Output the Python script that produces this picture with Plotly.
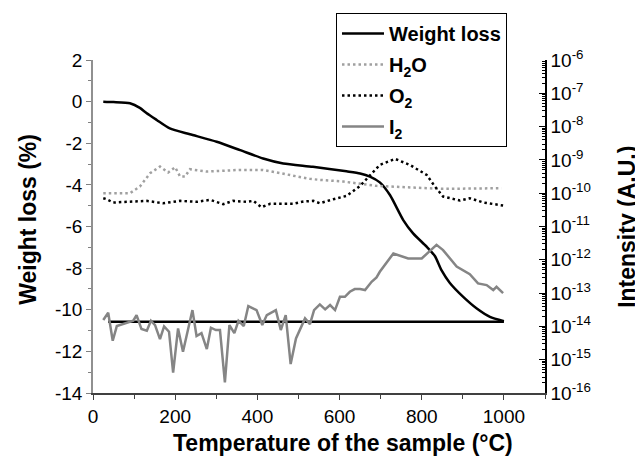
import plotly.graph_objects as go

# ---- data ----
wl_x = [25, 50, 90, 114, 130, 155, 187, 236, 301, 358, 414, 463, 535, 617, 650, 674, 698,
        723, 755, 779, 812, 832, 848, 868, 901, 934, 966, 1000]
wl_y = [0, -0.02, -0.08, -0.3, -0.55, -0.88, -1.29, -1.57, -1.93, -2.33, -2.73, -2.97,
        -3.13, -3.35, -3.45, -3.6, -3.88, -4.5, -5.69, -6.33, -6.97, -7.42, -8.1, -8.7,
        -9.38, -9.94, -10.34, -10.55]
base_x = [37, 1000]
base_y = [-10.58, -10.58]

h2o_x = [25, 90, 114, 139, 163, 183, 200, 212, 224, 236, 277, 358, 414, 479, 528, 552,
         609, 690, 771, 852, 994]
h2o_log = [-10.0, -10.0, -9.8, -9.4, -9.2, -9.38, -9.22, -9.5, -9.5, -9.28, -9.35, -9.3,
           -9.3, -9.45, -9.57, -9.6, -9.65, -9.78, -9.83, -9.87, -9.85]

o2_x = [25, 33, 49, 90, 131, 170, 212, 252, 285, 317, 341, 374, 390, 410, 431, 487, 512,
        536, 552, 585, 617, 650, 674, 698, 735, 771, 812, 832, 852, 893, 917, 950, 998]
o2_log = [-10.15, -10.18, -10.28, -10.26, -10.23, -10.3, -10.23, -10.26, -10.2, -10.33,
          -10.23, -10.26, -10.23, -10.42, -10.32, -10.32, -10.25, -10.23, -10.3, -10.18,
          -10.08, -9.78, -9.45, -9.15, -8.97, -9.15, -9.45, -9.8, -10.1, -10.22, -10.15,
          -10.28, -10.37]

i2_x = [25, 37, 48, 58, 98, 106, 118, 131, 141, 151, 163, 173, 185, 195, 207, 219, 242,
        252, 264, 277, 287, 299, 309, 321, 332, 344, 354, 367, 378, 398, 412, 423, 445,
        457, 469, 481, 494, 516, 528, 538, 552, 565, 577, 589, 601, 613, 625, 637, 650,
        662, 678, 690, 698, 731, 767, 800, 836, 852, 885, 917, 937, 958, 974, 982, 998]
i2_log = [-13.81, -13.59, -14.43, -13.99, -13.83, -13.66, -14.08, -14.13, -13.83, -13.96,
          -14.38, -14.0, -14.16, -15.39, -14.06, -14.76, -13.51, -14.29, -14.2, -14.68,
          -14.04, -14.11, -14.11, -15.68, -13.96, -14.2, -13.83, -13.99, -13.39, -13.51,
          -13.96, -13.66, -13.51, -14.11, -13.66, -15.13, -14.36, -13.76, -13.93, -13.51,
          -13.34, -13.49, -13.36, -13.51, -13.11, -13.11, -12.96, -12.88, -12.88, -12.91,
          -12.66, -12.53, -12.36, -11.81, -11.96, -11.96, -11.55, -11.71, -12.2, -12.43,
          -12.71, -12.76, -12.91, -12.81, -13.0]

x_tickvals = [0, 200, 400, 600, 800, 1000]
left_tickvals = [2, 0, -2, -4, -6, -8, -10, -12, -14]
right_exponents = [-6, -7, -8, -9, -10, -11, -12, -13, -14, -15, -16]

x_title = "Temperature of the sample (°C)"
left_title = "Weight loss (%)"
right_title = "Intensity (A.U.)"

# ---- figure ----
h2o_y = [10 ** v for v in h2o_log]
o2_y = [10 ** v for v in o2_log]
i2_y = [10 ** v for v in i2_log]

FONT = "Liberation Sans, Arial, sans-serif"
LW = 2.5
TICKSIZE = 19
TITLESIZE = 23

fig = go.Figure()
fig.add_trace(go.Scatter(x=wl_x, y=wl_y, mode="lines", name="<b>Weight loss</b>",
                         line=dict(color="black", width=LW, shape="spline", smoothing=0.6),
                         legendgroup="a", yaxis="y"))
fig.add_trace(go.Scatter(x=base_x, y=base_y, mode="lines", showlegend=False,
                         line=dict(color="black", width=LW), yaxis="y"))
fig.add_trace(go.Scatter(x=h2o_x, y=h2o_y, mode="lines", name="<b>H<sub>2</sub>O</b>",
                         line=dict(color="#a0a0a0", width=LW, dash="2.5px,3px"),
                         legendgroup="b", yaxis="y2"))
fig.add_trace(go.Scatter(x=o2_x, y=o2_y, mode="lines", name="<b>O<sub>2</sub></b>",
                         line=dict(color="black", width=LW, dash="2.5px,3px"),
                         legendgroup="c", yaxis="y2"))
fig.add_trace(go.Scatter(x=i2_x, y=i2_y, mode="lines", name="<b>I<sub>2</sub></b>",
                         line=dict(color="#858585", width=LW),
                         legendgroup="d", yaxis="y2"))

minor_vals = [m * 10 ** e for e in range(-16, -6) for m in range(2, 10)]

fig.update_layout(
    width=643, height=459,
    margin=dict(l=85, r=106, t=52, b=74, autoexpand=False),
    paper_bgcolor="white", plot_bgcolor="white",
    font=dict(family=FONT, size=16, color="black"),
    showlegend=True,
    legend=dict(x=0.5376, y=1.141, xanchor="left", yanchor="top",
                bordercolor="black", borderwidth=1, bgcolor="white",
                font=dict(family=FONT, size=20, color="black"),
                traceorder="grouped", tracegroupgap=2, itemwidth=42),
    xaxis=dict(range=[0, 1100], tickvals=x_tickvals, ticks="outside", ticklen=5,
               tickfont=dict(size=TICKSIZE),
               tickcolor="#404040", showline=True, linecolor="#404040", linewidth=1.5,
               showgrid=False, zeroline=False,
               minor=dict(dtick=100, tick0=0, ticks="outside", ticklen=4, tickcolor="#404040")),
    yaxis=dict(range=[-14, 2], tickvals=left_tickvals,
               ticktext=[str(v) for v in left_tickvals],
               ticks="outside", ticklen=5, tickfont=dict(size=TICKSIZE),
               tickcolor="#808080", showline=True, linecolor="#909090", linewidth=1.5,
               showgrid=False, zeroline=False,
               minor=dict(dtick=1, tick0=0, ticks="outside", ticklen=3, tickcolor="#808080")),
    yaxis2=dict(type="log", range=[-16, -6], overlaying="y", side="right",
                tickvals=[10 ** e for e in right_exponents],
                ticktext=["10<sup>%d</sup>" % e for e in right_exponents],
                ticks="inside", ticklen=6, tickcolor="black", tickfont=dict(size=TICKSIZE),
                showline=True, linecolor="black", linewidth=1.5,
                showgrid=False, zeroline=False,
                minor=dict(tickmode="array", tickvals=minor_vals, ticks="inside",
                           ticklen=3, tickcolor="black")),
    annotations=[
        dict(text="<b>%s</b>" % x_title, xref="paper", yref="paper",
             x=0.553, y=-0.150, xanchor="center", yanchor="middle", showarrow=False,
             font=dict(size=TITLESIZE)),
        dict(text="<b>%s</b>" % left_title, xref="paper", yref="paper", textangle=-90,
             x=-0.1438, y=0.52, xanchor="center", yanchor="middle", showarrow=False,
             font=dict(size=TITLESIZE)),
        dict(text="<b>%s</b>" % right_title, xref="paper", yref="paper", textangle=-90,
             x=1.18, y=0.5, xanchor="center", yanchor="middle", showarrow=False,
             font=dict(size=TITLESIZE)),
    ],
)

fig.write_html("out.html")
